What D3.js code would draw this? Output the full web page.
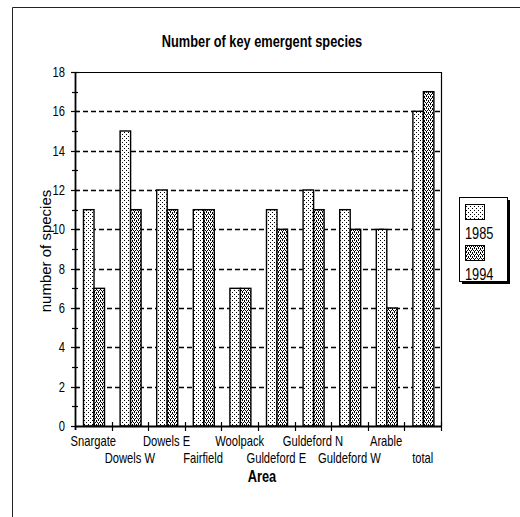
<!DOCTYPE html>
<html><head><meta charset="utf-8">
<script src="https://cdn.jsdelivr.net/npm/d3@7"></script>
<style>body{margin:0;background:#fff}svg{display:block}</style>
</head><body><svg id="c" width="520" height="517"></svg>
<script>
const categories = ["Snargate","Dowels W","Dowels E","Fairfield","Woolpack","Guldeford E","Guldeford N","Guldeford W","Arable","total"];
const seriesNames = ["1985","1994"];
const values1985 = [11,15,12,11,7,11,12,11,10,16];
const values1994 = [7,11,11,11,7,10,11,10,6,17];
const yTicks = [0,2,4,6,8,10,12,14,16,18];
const titleText = "Number of key emergent species";
const xTitle = "Area";
const yTitle = "number of species";

const FONT = "'Liberation Sans',Arial,sans-serif";
const SX = 0.8;

const svg = d3.select("#c");
const defs = svg.append("defs");
const p1 = defs.append("pattern").attr("id","p85").attr("patternUnits","userSpaceOnUse").attr("width",4).attr("height",4);
p1.append("rect").attr("width",4).attr("height",4).attr("fill","#fff");
[[0,0],[2,2]].forEach(([a,b])=>p1.append("rect").attr("x",a).attr("y",b).attr("width",1).attr("height",1).attr("fill","#000"));
const p2 = defs.append("pattern").attr("id","p94").attr("patternUnits","userSpaceOnUse").attr("width",4).attr("height",4);
p2.append("rect").attr("width",4).attr("height",4).attr("fill","#fff");
[[0,0],[2,0],[1,2],[3,2],[0,1],[2,3]].forEach(([a,b])=>p2.append("rect").attr("x",a).attr("y",b).attr("width",1).attr("height",1).attr("fill","#000"));

function ntext(sel, x, y, size, anchor, weight){
  return sel.append("text").attr("transform",`translate(${x},${y}) scale(${SX},1)`)
    .attr("text-anchor",anchor||"start").attr("font-family",FONT).attr("font-size",size)
    .attr("font-weight",weight||"normal");
}

svg.append("path").attr("d","M12.5,520 V7.5 H520").attr("fill","none").attr("stroke","#222").attr("stroke-width",1);

const L=75, R=441, T=72, B=426;
const x = d3.scaleBand().domain(categories).range([L,R]).padding(0);
const xs = d3.scaleBand().domain(seriesNames).range([8.5,29.5]);
const y = d3.scaleLinear().domain([0,18]).range([B,T]);

svg.append("g").selectAll("line").data(yTicks.filter(v=>v>0&&v<18)).join("line")
  .attr("x1",L).attr("x2",R).attr("y1",d=>Math.round(y(d))+0.5).attr("y2",d=>Math.round(y(d))+0.5)
  .attr("stroke","#000").attr("stroke-width",1.3).attr("stroke-dasharray","5,3");

svg.append("path").attr("d",`M${L},${T+0.5} H${R+0.5} V${B}`).attr("fill","none").attr("stroke","#000").attr("stroke-width",1.2);

const rows = categories.map((c,i)=>({c, v:[values1985[i],values1994[i]]}));
const g = svg.append("g");
rows.forEach(r=>{
  seriesNames.forEach((s,j)=>{
    g.append("rect")
      .attr("x",x(r.c)+xs(s)).attr("width",xs.bandwidth())
      .attr("y",y(r.v[j])).attr("height",B-y(r.v[j]))
      .attr("fill", j===0?"url(#p85)":"url(#p94)")
      .attr("stroke","#000").attr("stroke-width",1.4);
  });
});

const yAxis = svg.append("g");
yAxis.append("line").attr("x1",L+0.5).attr("x2",L+0.5).attr("y1",T).attr("y2",B+4).attr("stroke","#000").attr("stroke-width",1.8);
d3.range(0,19).forEach(v=>{
  const major = v%2===0;
  yAxis.append("line").attr("x1",L-(major?4:3)).attr("x2",L+(major?4:3))
    .attr("y1",Math.round(y(v))+0.5).attr("y2",Math.round(y(v))+0.5).attr("stroke","#000").attr("stroke-width",1.2);
});
yTicks.forEach(v=>{
  ntext(yAxis, L-10, y(v)+5, 14, "end").text(v);
});

const xAxis = svg.append("g");
xAxis.append("line").attr("x1",L).attr("x2",R).attr("y1",B+0.5).attr("y2",B+0.5).attr("stroke","#000").attr("stroke-width",1.8);
categories.forEach((c,i)=>{
  const xx = Math.round(x(c)+x.bandwidth())+0.5;
  xAxis.append("line").attr("x1",xx).attr("x2",xx).attr("y1",B-4).attr("y2",B+5).attr("stroke","#000").attr("stroke-width",1.2);
  ntext(xAxis, x(c)+x.bandwidth()/2, i%2===0?446:463, 14, "middle").text(c);
});

ntext(svg, 262, 47, 16, "middle", "bold").text(titleText);
ntext(svg, 262, 482, 16, "middle", "bold").text(xTitle);
svg.append("text").attr("transform","translate(51,251) rotate(-90)").attr("text-anchor","middle")
  .attr("font-family",FONT).attr("font-size",15).text(yTitle);

const lg = svg.append("g");
lg.append("rect").attr("x",462).attr("y",200).attr("width",48).attr("height",84).attr("fill","#000");
lg.append("rect").attr("x",459.5).attr("y",197.5).attr("width",48).attr("height",84).attr("fill","#fff").attr("stroke","#000");
seriesNames.forEach((s,j)=>{
  const y0 = 204 + j*41;
  lg.append("rect").attr("x",465.5).attr("y",y0+0.5).attr("width",19).attr("height",15)
    .attr("fill", j===0?"url(#p85)":"url(#p94)").attr("stroke","#000");
  ntext(lg, 465, y0+35, 16, "start").text(s);
});
</script></body></html>
